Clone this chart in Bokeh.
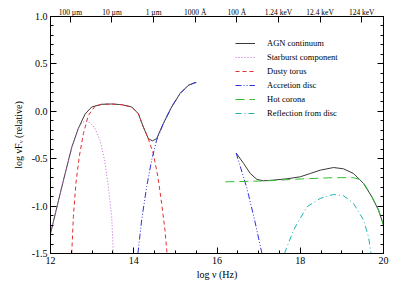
from bokeh.plotting import figure
from bokeh.models import (LinearAxis, FixedTicker, SingleIntervalTicker, PrintfTickFormatter,
                          Range1d, Legend, LegendItem, CustomJSTickFormatter)
from bokeh.embed import file_html
from bokeh.resources import INLINE

# ---- data ----
cont_left_x = [12.0, 12.27, 12.51, 12.67, 12.83, 12.99, 13.23, 13.47, 13.71, 13.95, 14.11, 14.23, 14.35, 14.45, 14.55, 14.71, 14.91, 15.11, 15.31, 15.47, 15.5]
cont_left_y = [-1.29, -0.80, -0.38, -0.18, -0.03, 0.046, 0.074, 0.077, 0.070, 0.046, -0.025, -0.165, -0.288, -0.312, -0.288, -0.13, 0.046, 0.186, 0.274, 0.302, 0.303]
cont_right_x = [16.46, 16.64, 16.80, 16.96, 17.12, 17.36, 17.68, 18.0, 18.24, 18.48, 18.8, 19.04, 19.28, 19.52, 19.72, 19.88, 20.0]
cont_right_y = [-0.44, -0.551, -0.656, -0.719, -0.733, -0.726, -0.712, -0.691, -0.656, -0.621, -0.593, -0.607, -0.656, -0.761, -0.902, -1.042, -1.2]

sb_x = [12.0, 12.27, 12.51, 12.67, 12.75, 12.85, 12.95, 13.07, 13.19, 13.30, 13.39, 13.47, 13.51]
sb_y = [-1.29, -0.80, -0.39, -0.18, -0.123, -0.102, -0.119, -0.182, -0.305, -0.516, -0.796, -1.112, -1.5]

tor_x = [12.51, 12.55, 12.61, 12.69, 12.79, 12.91, 13.07, 13.23, 13.47, 13.71, 13.95, 14.11, 14.23, 14.35, 14.47, 14.58, 14.67, 14.75, 14.80]
tor_y = [-1.5, -1.11, -0.76, -0.48, -0.235, -0.042, 0.053, 0.074, 0.077, 0.070, 0.046, -0.025, -0.165, -0.29, -0.446, -0.691, -0.972, -1.253, -1.5]

disc1_x = [14.10, 14.19, 14.31, 14.43, 14.55, 14.71, 14.91, 15.11, 15.31, 15.47, 15.5]
disc1_y = [-1.5, -1.147, -0.796, -0.516, -0.305, -0.13, 0.046, 0.186, 0.274, 0.302, 0.303]
disc2_x = [16.46, 16.72, 16.90, 17.08]
disc2_y = [-0.44, -0.814, -1.14, -1.5]

cor_x = [16.2, 17.12, 18.0, 18.8, 19.28, 19.44, 19.56, 19.72, 19.88, 20.0]
cor_y = [-0.744, -0.735, -0.714, -0.700, -0.700, -0.72, -0.78, -0.902, -1.042, -1.2]

refl_x = [17.62, 17.84, 18.16, 18.48, 18.8, 19.04, 19.28, 19.52, 19.64, 19.70]
refl_y = [-1.5, -1.253, -1.007, -0.919, -0.877, -0.891, -0.972, -1.147, -1.323, -1.5]

top_tick_pos = [12.477, 13.477, 14.477, 15.477, 16.477, 17.477, 18.477, 19.477]
top_tick_labels = ["100 \u00b5m", "10 \u00b5m", "1 \u00b5m", "1000 \u00c5", "100 \u00c5", "1.24 keV", "12.4 keV", "124 keV"]

legend_labels = ["AGN continuum", "Starburst component", "Dusty torus", "Accretion disc", "Hot corona", "Reflection from disc"]

FONT = "Liberation Serif"

p = figure(width=399, height=286, output_backend="svg", toolbar_location=None,
           x_range=Range1d(12, 20), y_range=Range1d(-1.5, 1.0),
           min_border_left=50, min_border_right=16, min_border_top=16, min_border_bottom=33)
p.grid.visible = False
p.outline_line_color = "black"
p.background_fill_color = "white"

def style_axis(ax):
    ax.axis_line_color = "black"
    ax.major_tick_line_color = "black"
    ax.minor_tick_line_color = "black"
    ax.major_tick_in = 6
    ax.major_tick_out = 0
    ax.minor_tick_in = 3
    ax.minor_tick_out = 0
    ax.major_label_text_font = FONT
    ax.major_label_text_color = "black"
    ax.axis_label_text_font = FONT
    ax.axis_label_text_font_style = "normal"
    ax.axis_label_text_color = "black"
    ax.axis_label_text_font_size = "10px"
    ax.major_label_text_font_size = "10px"
    ax.major_label_standoff = 3

xa = p.xaxis[0]
xa.ticker = SingleIntervalTicker(interval=2, num_minor_ticks=4)
style_axis(xa)
xa.axis_label = "log \u03bd (Hz)"
xa.axis_label_standoff = 2

ya = p.yaxis[0]
ya.ticker = SingleIntervalTicker(interval=0.5, num_minor_ticks=5)
ya.formatter = PrintfTickFormatter(format="%.1f")
style_axis(ya)
ya.axis_label = "log \u03bdF\u1d65 (relative)"
ya.axis_label_standoff = 5

ra = LinearAxis(ticker=SingleIntervalTicker(interval=0.5, num_minor_ticks=5),
                formatter=CustomJSTickFormatter(code="return ''"))
style_axis(ra)
ra.major_label_standoff = 0
p.add_layout(ra, "right")

ta = LinearAxis(ticker=FixedTicker(ticks=top_tick_pos, minor_ticks=[]),
                major_label_overrides=dict(zip(top_tick_pos, top_tick_labels)))
style_axis(ta)
ta.major_label_text_font_size = "7.5px"
ta.major_label_standoff = 0
p.add_layout(ta, "above")

# curves
c1 = p.line(cont_left_x, cont_left_y, line_color="#3a3a3a", line_width=1)
p.line(cont_right_x, cont_right_y, line_color="#3a3a3a", line_width=1)
sb = p.line(sb_x, sb_y, line_color="#c060d8", line_width=1, line_dash="1 2")
tor = p.line(tor_x, tor_y, line_color="#e03030", line_width=1, line_dash="4 3")
d1 = p.line(disc1_x, disc1_y, line_color="#3030e0", line_width=1, line_dash="6 2 1 2 1 2")
p.line(disc2_x, disc2_y, line_color="#3030e0", line_width=1, line_dash="6 2 1 2 1 2")
cor = p.line(cor_x, cor_y, line_color="#30c030", line_width=1, line_dash="9 5")
refl = p.line(refl_x, refl_y, line_color="#20b0b0", line_width=1, line_dash="6 3 1 3")

items = [LegendItem(label=lab, renderers=[r]) for lab, r in
         zip(legend_labels, [c1, sb, tor, d1, cor, refl])]
leg = Legend(items=items, location=(185, 133), padding=0, margin=0, spacing=0,
             glyph_width=20, glyph_height=14, label_height=14, label_standoff=12,
             label_text_font=FONT, label_text_font_size="8.5px", label_text_color="black",
             border_line_color=None, background_fill_alpha=0)
p.add_layout(leg, "center")

open("out.html", "w").write(file_html(p, INLINE))
